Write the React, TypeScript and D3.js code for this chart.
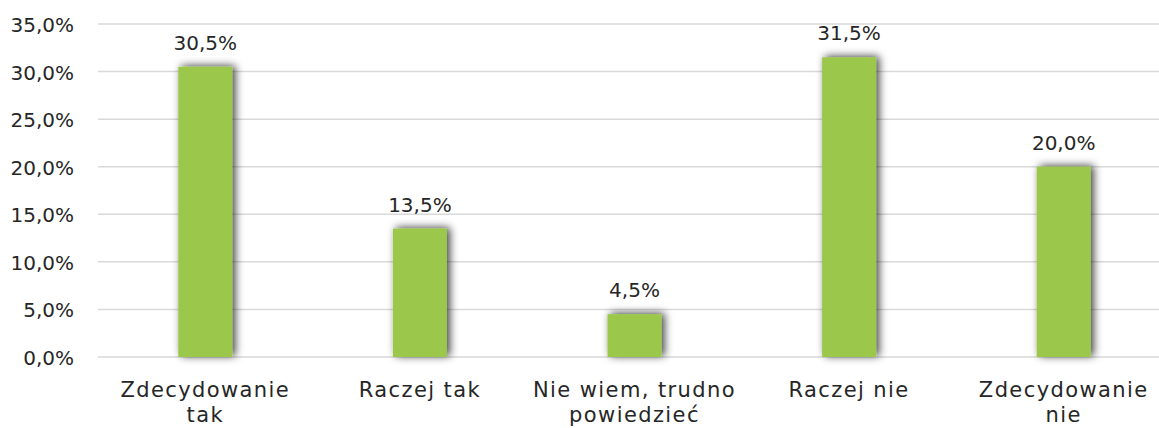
import React, { useRef, useEffect } from 'react';
import * as d3 from 'd3';

const categories = [
  ['Zdecydowanie', 'tak'],
  ['Raczej tak'],
  ['Nie wiem, trudno', 'powiedzieć'],
  ['Raczej nie'],
  ['Zdecydowanie', 'nie'],
];
const values = [30.5, 13.5, 4.5, 31.5, 20.0];
const yTicks = [0, 5, 10, 15, 20, 25, 30, 35];

const fmt = (v: number) => v.toFixed(1).replace('.', ',') + '%';

function App() {
  const svgRef = useRef<SVGSVGElement>(null);

  useEffect(() => {
    const svg = d3.select(svgRef.current);
    svg.selectAll('*').remove();

    const left = 98;
    const right = 1171;
    const top = 24;
    const bottom = 357;
    const font = "'DejaVu Sans', sans-serif";
    const ink = '#262626';

    const defs = svg.append('defs');
    const f = defs.append('filter').attr('id', 'shadow')
      .attr('x', '-50%').attr('y', '-50%').attr('width', '200%').attr('height', '200%');
    f.append('feDropShadow')
      .attr('dx', 3).attr('dy', -1).attr('stdDeviation', 4)
      .attr('flood-color', '#000').attr('flood-opacity', 0.75);

    const idx = values.map((_, i) => i);
    const x = d3.scaleBand<number>().domain(idx).range([left, right]).padding(0);
    const barW = 54;
    const cx = (i: number) => x(i)! + x.bandwidth() / 2;
    const y = d3.scaleLinear().domain([0, 35]).range([bottom, top]);

    // gridlines
    svg.append('g').selectAll('line')
      .data(yTicks)
      .enter()
      .append('line')
      .attr('x1', left).attr('x2', right)
      .attr('y1', d => y(d)).attr('y2', d => y(d))
      .attr('stroke', '#d9d9d9')
      .attr('stroke-width', 1.5);

    // y tick labels
    svg.append('g').selectAll('text')
      .data(yTicks)
      .enter()
      .append('text')
      .attr('x', 74)
      .attr('y', d => y(d) + 8)
      .attr('text-anchor', 'end')
      .style('font-family', font)
      .style('font-size', '20px')
      .attr('fill', ink)
      .text(d => fmt(d));

    // bars
    svg.append('g').selectAll('rect')
      .data(idx)
      .enter()
      .append('rect')
      .attr('x', i => cx(i) - barW / 2)
      .attr('y', i => y(values[i]))
      .attr('width', barW)
      .attr('height', i => bottom - y(values[i]))
      .attr('fill', '#9bc84b')
      .attr('filter', 'url(#shadow)');

    // value labels
    svg.append('g').selectAll('text')
      .data(idx)
      .enter()
      .append('text')
      .attr('x', cx)
      .attr('y', i => y(values[i]) - 17)
      .attr('text-anchor', 'middle')
      .style('font-family', font)
      .style('font-size', '20px')
      .attr('fill', ink)
      .text(i => fmt(values[i]));

    // category labels
    const cat = svg.append('g').selectAll('text')
      .data(idx)
      .enter()
      .append('text')
      .attr('text-anchor', 'middle')
      .style('font-family', font)
      .style('font-size', '21px')
      .style('letter-spacing', '1.4px')
      .attr('fill', ink);
    cat.each(function (i) {
      const t = d3.select(this);
      categories[i].forEach((line, k) => {
        t.append('tspan')
          .attr('x', cx(i))
          .attr('y', 397 + k * 25)
          .text(line);
      });
    });
  }, []);

  return (
    <svg
      ref={svgRef}
      width={1159}
      height={428}
      style={{ position: 'absolute', left: 0, top: 0, background: '#fff' }}
    />
  );
}

export default App;
